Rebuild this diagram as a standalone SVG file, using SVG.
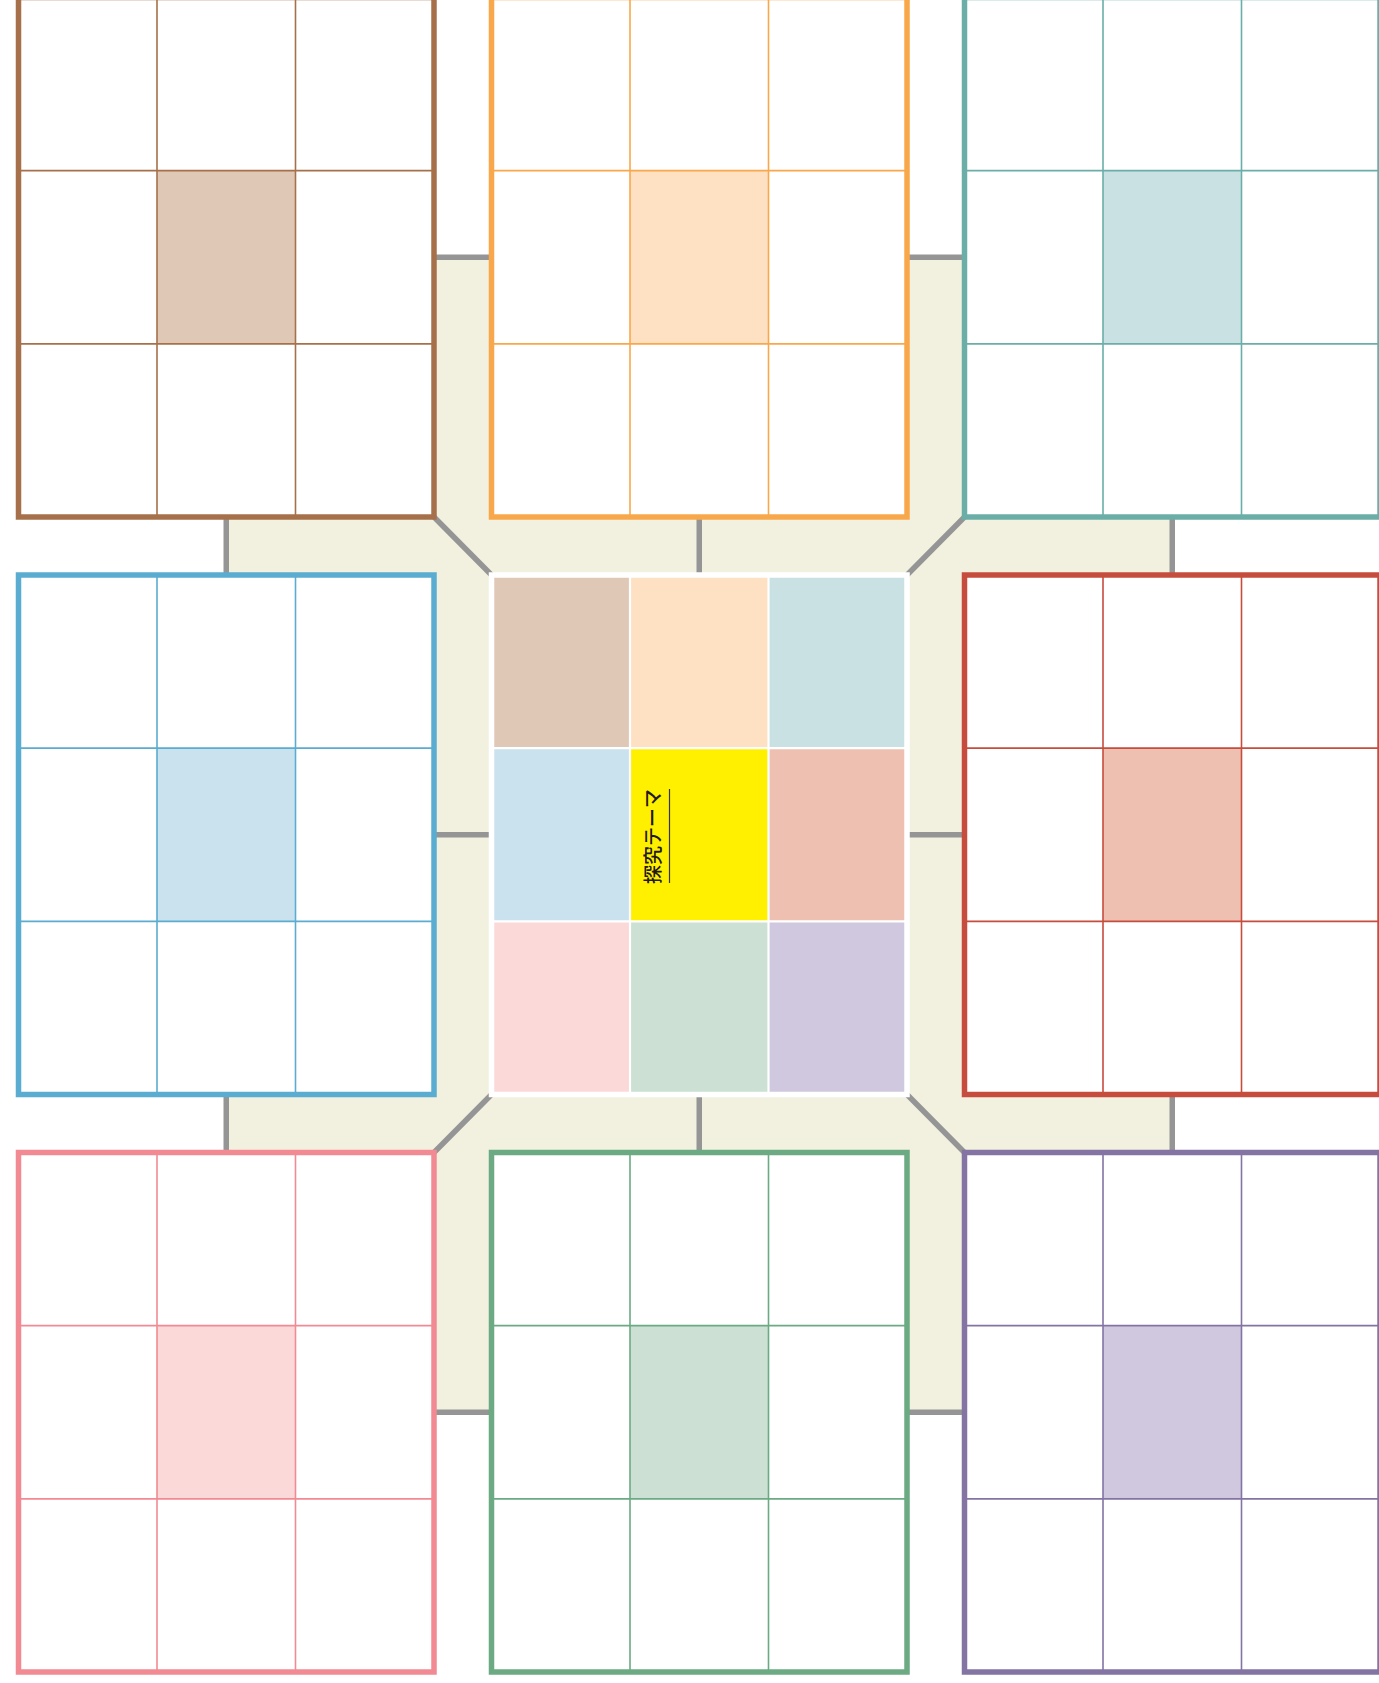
<svg xmlns="http://www.w3.org/2000/svg" width="1379" height="1683" viewBox="0 0 1379 1683">
<style>
.bg{fill:#fff}
.cell{stroke:none}
.grid{fill:none;stroke-width:1.6}
.frame{fill:none;stroke-width:5.5}
.conn{fill:none;stroke:#959595;stroke-width:5.5}
.plate{fill:#F2F1E0;stroke:#959595;stroke-width:5.5}
.label{font-family:"Noto Sans CJK JP","Noto Sans",sans-serif;font-size:19px;font-weight:500;fill:#231815}
</style>
<defs>
<path id="gridlines" d="M138.5 0V519.5M277 0V519.5M0 173.17H415.5M0 346.33H415.5"/>
</defs>
<rect width="1379" height="1683" fill="#fff"/>
<g id="connectors">
<rect class="plate" x="226.25" y="257.25" width="946" height="1155"/>
<path class="conn" d="M699.25 517V575M699.25 1094.5V1152.5M434 834.75H491.5M907 834.75H964.5M434 517L491.5 575M907 575L964.5 517M434 1152.5L491.5 1094.5M907 1094.5L964.5 1152.5"/>
</g>
<g id="block-brown" transform="translate(18.5,-2.5)" stroke="#A6714A">
<rect class="bg" width="415.5" height="519.5" stroke="none"/>
<rect class="cell" x="138.5" y="173.17" width="138.5" height="173.17" fill="#E0C8B6"/>
<use href="#gridlines" class="grid"/>
<rect class="frame" width="415.5" height="519.5"/>
</g>
<g id="block-orange" transform="translate(491.5,-2.5)" stroke="#F8A84B">
<rect class="bg" width="415.5" height="519.5" stroke="none"/>
<rect class="cell" x="138.5" y="173.17" width="138.5" height="173.17" fill="#FDE1C2"/>
<use href="#gridlines" class="grid"/>
<rect class="frame" width="415.5" height="519.5"/>
</g>
<g id="block-teal" transform="translate(964.5,-2.5)" stroke="#6BAEA8">
<rect class="bg" width="415.5" height="519.5" stroke="none"/>
<rect class="cell" x="138.5" y="173.17" width="138.5" height="173.17" fill="#C9E1E2"/>
<use href="#gridlines" class="grid"/>
<rect class="frame" width="415.5" height="519.5"/>
</g>
<g id="block-blue" transform="translate(18.5,575)" stroke="#5AACD0">
<rect class="bg" width="415.5" height="519.5" stroke="none"/>
<rect class="cell" x="138.5" y="173.17" width="138.5" height="173.17" fill="#CAE2EE"/>
<use href="#gridlines" class="grid"/>
<rect class="frame" width="415.5" height="519.5"/>
</g>
<g id="block-red" transform="translate(964.5,575)" stroke="#C64D3E">
<rect class="bg" width="415.5" height="519.5" stroke="none"/>
<rect class="cell" x="138.5" y="173.17" width="138.5" height="173.17" fill="#EEC0B2"/>
<use href="#gridlines" class="grid"/>
<rect class="frame" width="415.5" height="519.5"/>
</g>
<g id="block-pink" transform="translate(18.5,1152.5)" stroke="#F28A93">
<rect class="bg" width="415.5" height="519.5" stroke="none"/>
<rect class="cell" x="138.5" y="173.17" width="138.5" height="173.17" fill="#FBD9D8"/>
<use href="#gridlines" class="grid"/>
<rect class="frame" width="415.5" height="519.5"/>
</g>
<g id="block-green" transform="translate(491.5,1152.5)" stroke="#6BAA83">
<rect class="bg" width="415.5" height="519.5" stroke="none"/>
<rect class="cell" x="138.5" y="173.17" width="138.5" height="173.17" fill="#CCE0D3"/>
<use href="#gridlines" class="grid"/>
<rect class="frame" width="415.5" height="519.5"/>
</g>
<g id="block-purple" transform="translate(964.5,1152.5)" stroke="#8374A4">
<rect class="bg" width="415.5" height="519.5" stroke="none"/>
<rect class="cell" x="138.5" y="173.17" width="138.5" height="173.17" fill="#D0C8DE"/>
<use href="#gridlines" class="grid"/>
<rect class="frame" width="415.5" height="519.5"/>
</g>
<g id="block-center" transform="translate(491.5,575)">
<rect class="cell" x="0" y="0" width="138.5" height="173.17" fill="#E0C8B6"/>
<rect class="cell" x="138.5" y="0" width="138.5" height="173.17" fill="#FDE1C2"/>
<rect class="cell" x="277" y="0" width="138.5" height="173.17" fill="#C9E1E2"/>
<rect class="cell" x="0" y="173.17" width="138.5" height="173.17" fill="#CAE2EE"/>
<rect class="cell" x="138.5" y="173.17" width="138.5" height="173.17" fill="#FFF000"/>
<rect class="cell" x="277" y="173.17" width="138.5" height="173.17" fill="#EEC0B2"/>
<rect class="cell" x="0" y="346.33" width="138.5" height="173.17" fill="#FBD9D8"/>
<rect class="cell" x="138.5" y="346.33" width="138.5" height="173.17" fill="#CCE0D3"/>
<rect class="cell" x="277" y="346.33" width="138.5" height="173.17" fill="#D0C8DE"/>
<use href="#gridlines" fill="none" stroke="#fff" stroke-width="2.2"/>
<rect class="frame" width="415.5" height="519.5" stroke="#fff"/>
<text class="label" transform="translate(168.5,261.5) rotate(-90)" text-anchor="middle">探究テーマ</text>
<line x1="178" y1="214" x2="178" y2="308" stroke="#333" stroke-width="1.2"/>
</g>
</svg>
